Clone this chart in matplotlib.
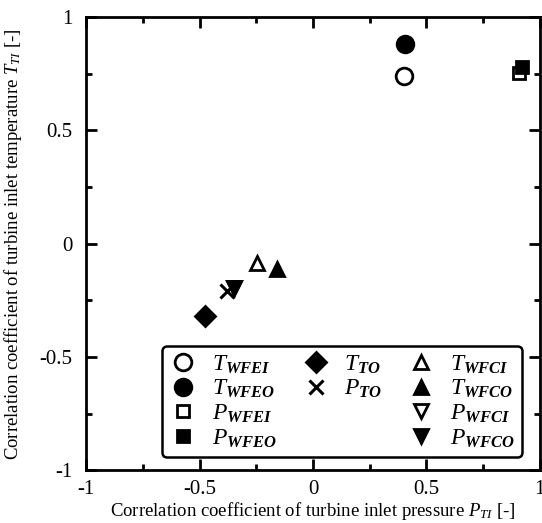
import matplotlib
matplotlib.use("Agg")
import matplotlib.pyplot as plt
from matplotlib.lines import Line2D
from matplotlib.ticker import MultipleLocator

plt.rcParams['font.family'] = ['Liberation Serif']
plt.rcParams['mathtext.fontset'] = 'custom'
plt.rcParams['mathtext.rm'] = 'Liberation Serif'
plt.rcParams['mathtext.it'] = 'Liberation Serif:italic'
plt.rcParams['mathtext.bf'] = 'Liberation Serif:bold'
plt.rcParams['mathtext.bfit'] = 'Liberation Serif:italic:bold'

# Data (x: corr with P_TI, y: corr with T_TI)
labels = ['WFEI_T', 'WFEO_T', 'WFEI_P', 'WFEO_P', 'TO_T', 'TO_P',
          'WFCI_T', 'WFCO_T', 'WFCI_P', 'WFCO_P']
x_vals = [0.40, 0.405, 0.91, 0.92, -0.475, -0.38, -0.245, -0.16, -0.35, -0.35]
y_vals = [0.74, 0.88, 0.755, 0.78, -0.32, -0.21, -0.085, -0.11, -0.195, -0.195]
legend_labels = [r'$T_{\mathbfit{WFEI}}$', r'$T_{\mathbfit{WFEO}}$',
                 r'$P_{\mathbfit{WFEI}}$', r'$P_{\mathbfit{WFEO}}$',
                 r'$T_{\mathbfit{TO}}$', r'$P_{\mathbfit{TO}}$',
                 r'$T_{\mathbfit{WFCI}}$', r'$T_{\mathbfit{WFCO}}$',
                 r'$P_{\mathbfit{WFCI}}$', r'$P_{\mathbfit{WFCO}}$']
markers = ['o', 'o', 's', 's', 'D', 'x', '^', '^', 'v', 'v']
filled = [False, True, False, True, True, True, False, True, False, True]
sizes = [12, 12, 9, 9, 10, 10, 10, 10, 10, 10]

fig = plt.figure(figsize=(5.42, 5.23), dpi=100)
ax = fig.add_axes([0.159, 0.101, 0.837, 0.866])

handles = []
for i in range(len(x_vals)):
    fc = 'black' if filled[i] else 'white'
    h, = ax.plot([x_vals[i]], [y_vals[i]], linestyle='none', marker=markers[i],
                 markersize=sizes[i], markerfacecolor=fc, markeredgecolor='black',
                 markeredgewidth=2.2 if markers[i] == 'x' else 2.0, color='black',
                 label=legend_labels[i])
    handles.append(h)

ax.set_xlim(-1, 1)
ax.set_ylim(-1, 1)
ax.xaxis.set_major_locator(MultipleLocator(0.5))
ax.yaxis.set_major_locator(MultipleLocator(0.5))
ax.xaxis.set_minor_locator(MultipleLocator(0.25))
ax.yaxis.set_minor_locator(MultipleLocator(0.25))
ax.tick_params(which='both', direction='in', top=True, right=True, width=2)
ax.tick_params(which='major', length=8, labelsize=15)
ax.tick_params(which='minor', length=4)
ax.tick_params(axis='x', which='major', pad=7)
ax.tick_params(axis='y', which='major', pad=10)
ax.set_xticks([-1, -0.5, 0, 0.5, 1])
ax.set_xticklabels(['-1', '-0.5', '0', '0.5', '1'])
ax.set_yticks([-1, -0.5, 0, 0.5, 1])
ax.set_yticklabels(['-1', '-0.5', '0', '0.5', '1'])
for s in ax.spines.values():
    s.set_linewidth(2)

ax.set_xlabel(r'Correlation coefficient of turbine inlet pressure $P_{TI}$ [-]', fontsize=13.5, labelpad=1)
ax.set_ylabel(r'Correlation coefficient of turbine inlet temperature $T_{TI}$ [-]', fontsize=13.5, labelpad=11)

blank = Line2D([], [], linestyle='none', marker=None)
order = [handles[0], handles[1], handles[2], handles[3],
         handles[4], handles[5], blank, blank,
         handles[6], handles[7], handles[8], handles[9]]
olabels = [legend_labels[0], legend_labels[1], legend_labels[2], legend_labels[3],
           legend_labels[4], legend_labels[5], '', '',
           legend_labels[6], legend_labels[7], legend_labels[8], legend_labels[9]]
leg = ax.legend(order, olabels, ncol=3, loc='lower left',
                bbox_to_anchor=(0.167, 0.03, 0.793, 0.24), mode='expand',
                borderaxespad=0,
                fontsize=17, frameon=True, fancybox=True, edgecolor='black',
                handletextpad=0.6, labelspacing=0.1, borderpad=0.3,
                columnspacing=0.5, handlelength=1.2)
leg.get_frame().set_linewidth(1.8)
leg.get_frame().set_alpha(1)

fig.savefig('out.png', dpi=100)
